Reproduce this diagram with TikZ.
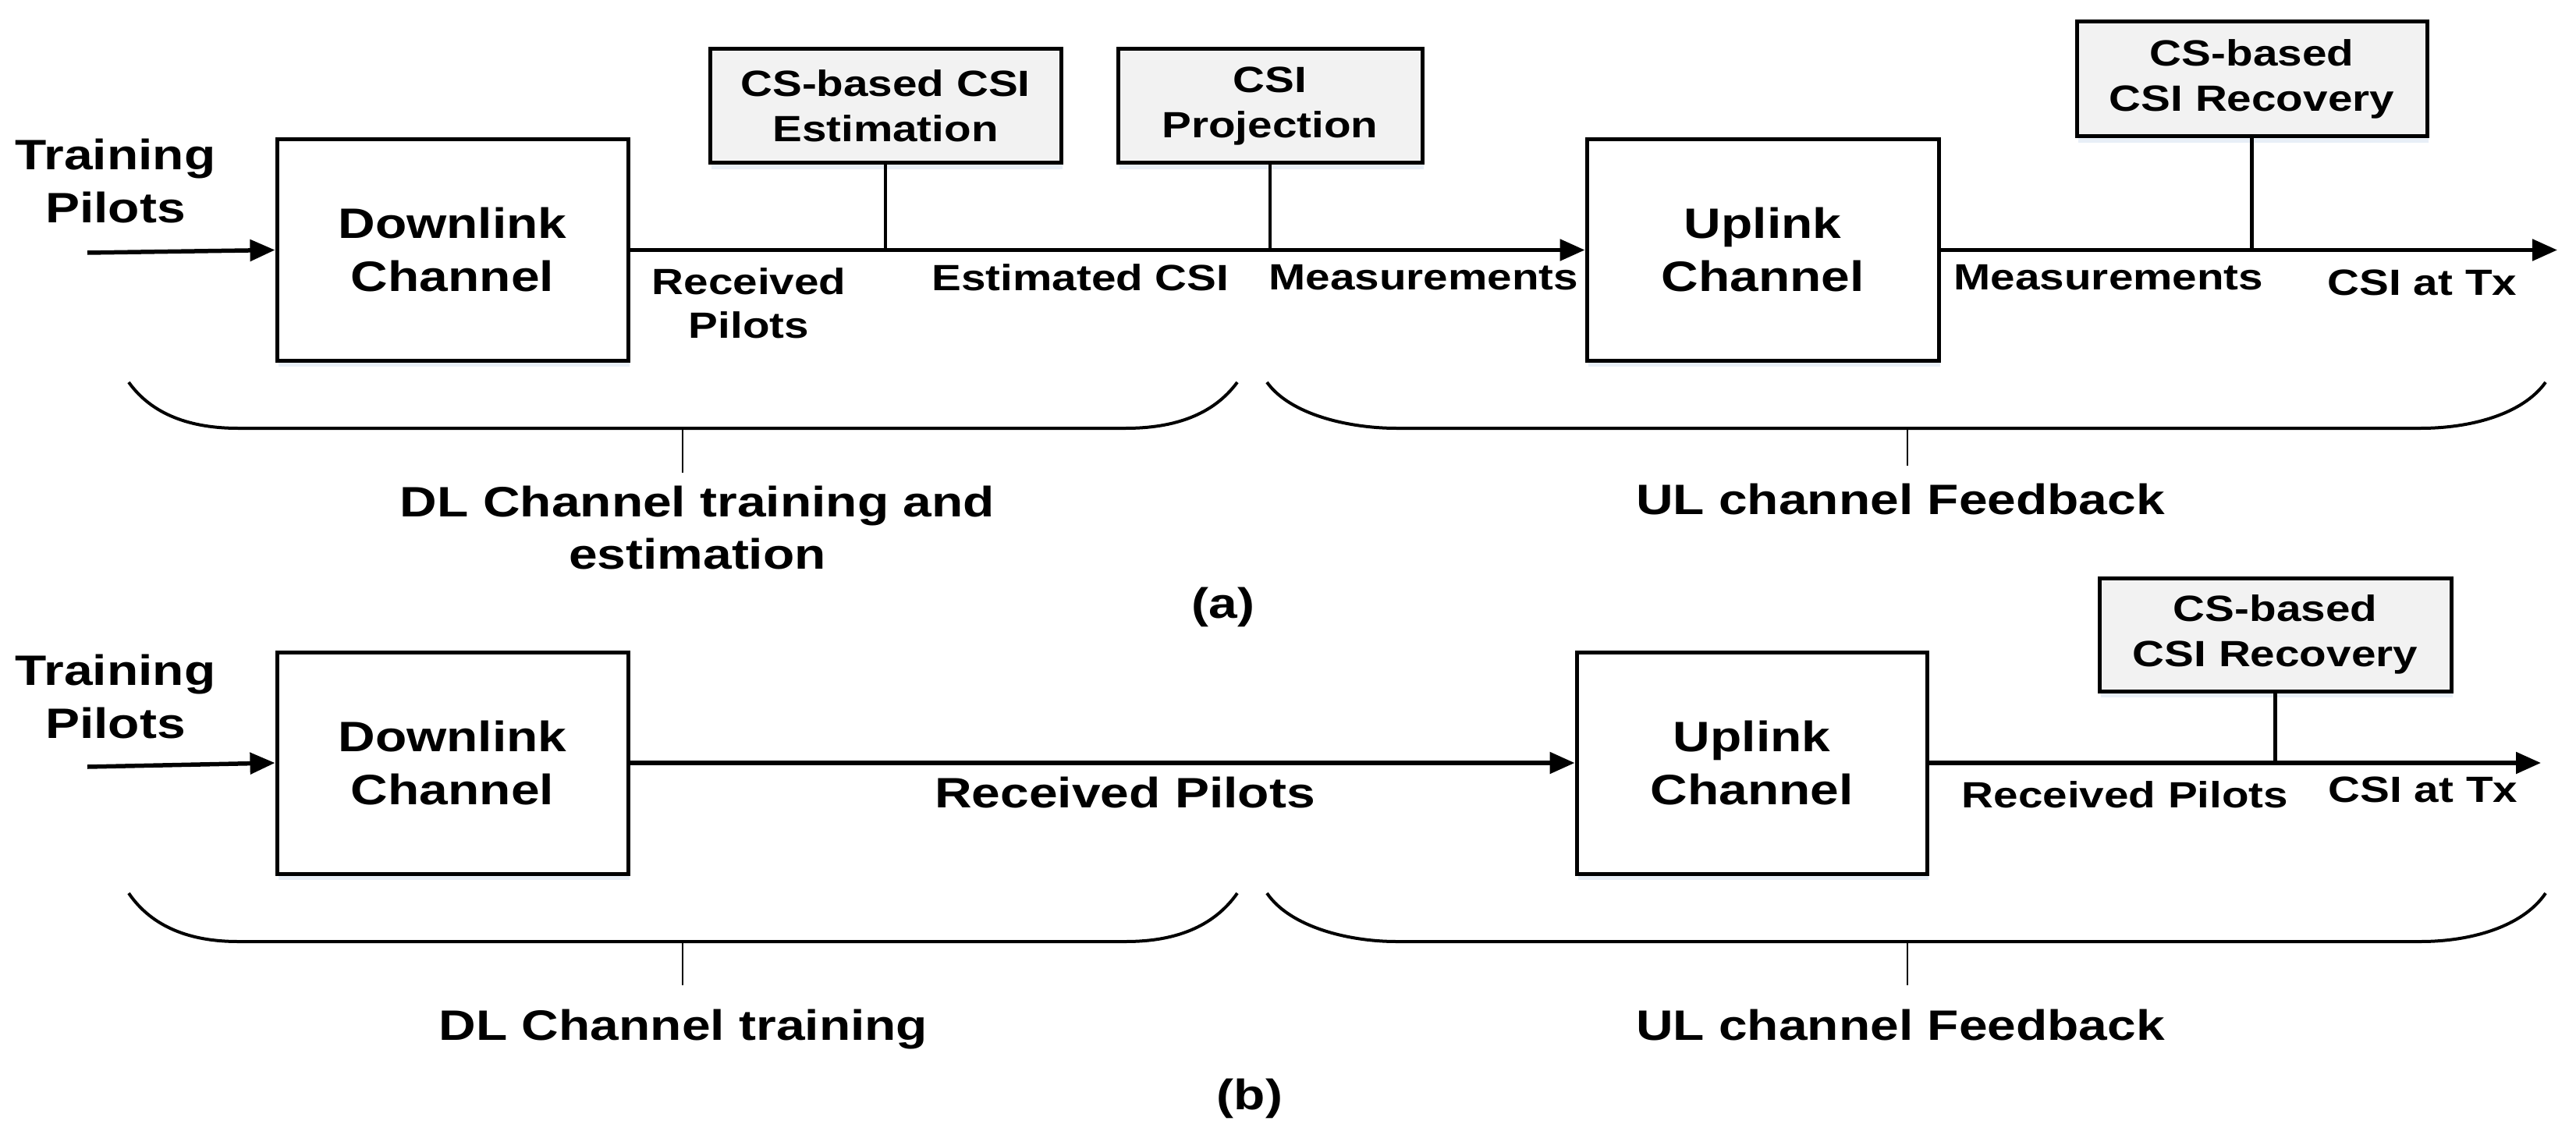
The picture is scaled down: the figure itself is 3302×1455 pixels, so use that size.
\documentclass[tikz,border=0pt]{standalone}
\usepackage{fontspec}
\newfontfamily\figfont{Liberation Sans}[FakeStretch=1.21]
\usetikzlibrary{arrows.meta,shadows}
\definecolor{boxgray}{RGB}{242,242,242}
\definecolor{shadowblue}{RGB}{205,220,238}
\tikzset{
  big/.style={font=\figfont\bfseries\fontsize{54.5}{68}\selectfont},
  small/.style={font=\figfont\bfseries\fontsize{46.8}{57}\selectfont},
  shadowed/.style={drop shadow={shadow xshift=2pt, shadow yshift=-8pt, fill=shadowblue, opacity=0.45}},
  chan/.style={draw, line width=5pt, fill=white, minimum width=450pt, minimum height=283pt,
    inner sep=0pt, align=center, big, shadowed},
  proc/.style={draw, line width=5pt, fill=boxgray, minimum height=146pt,
    inner sep=0pt, align=center, small, shadowed},
  lbl/.style={inner sep=0pt, anchor=base, align=center},
  sig/.style={line width=5.5pt, -{Triangle[length=32pt,width=27pt]}},
  wire/.style={line width=5.5pt},
  tap/.style={line width=4.5pt},
  brace/.style={line width=4pt},
  tick/.style={line width=2.5pt},
}
\begin{document}
\begin{tikzpicture}[x=1pt,y=-1pt]
\fill[white] (0,0) rectangle (3302,1455);
\useasboundingbox (0,0) rectangle (3302,1455);

% ---------------- (a) ----------------
\node[chan] (dl1) at (580,320.5) {Downlink\\Channel};
\node[chan, minimum width=451pt] (ul1) at (2259.5,320.5) {Uplink\\Channel};
\node[proc, minimum width=450pt] (est) at (1135,136) {CS-based CSI\\[1pt]Estimation};
\node[proc, minimum width=390pt] (proj) at (1628,136) {CSI\\[1pt]Projection};
\node[proc, minimum width=449pt, minimum height=147pt] (rec1) at (2886.5,101.5) {CS-based\\[1pt]CSI Recovery};

\coordinate (inA) at (112,324);
\coordinate (outA) at (3278,320.5);
\draw[sig] (inA) -- (dl1.west);
\draw[sig] (dl1.east) -- (ul1.west);
\draw[sig] (ul1.east) -- (outA);
\draw[tap] (est.south) -- (est.south |- dl1.east);
\draw[tap] (proj.south) -- (proj.south |- dl1.east);
\draw[tap] (rec1.south) -- (rec1.south |- ul1.east);

% base anchor of a two-line label = baseline of its last line
\node[lbl, big] (tp1) at (148,286) {Training\\Pilots};
\node[lbl, small, font=\figfont\bfseries\fontsize{46.8}{56}\selectfont] (rp1) at (960,433) {Received\\Pilots};
\node[lbl, small] (ec1) at (1385,372) {Estimated CSI};
\node[lbl, small] (ms1) at (1825,371) {Measurements};
\node[lbl, small] (ms2) at (2703,371) {Measurements};
\node[lbl, small] (tx1) at (3105,378) {CSI at Tx};

\draw[brace] (165,490) .. controls (195,532) and (245,549) .. (305,549) -- (1443,549)
  .. controls (1505,549) and (1555,532) .. (1586,490);
\draw[tick] (875,549) -- (875,606);
\draw[brace] (1624,490) .. controls (1654,532) and (1730,549) .. (1790,549) -- (3103,549)
  .. controls (3165,549) and (3233,532) .. (3263,490);
\draw[tick] (2445,549) -- (2445,597);

\node[lbl, big, font=\figfont\bfseries\fontsize{54.5}{67}\selectfont] (dlt1) at (894,729) {DL Channel training and\\estimation};
\node[lbl, big] (ulf1) at (2436,659) {UL channel Feedback};
\node[lbl, big] (capa) at (1568,792) {(a)};

% ---------------- (b) ----------------
\node[chan, minimum height=284pt] (dl2) at (580,978) {Downlink\\Channel};
\node[chan, minimum width=449pt, minimum height=284pt] (ul2) at (2245.5,978) {Uplink\\Channel};
\node[proc, minimum width=451pt, minimum height=145pt] (rec2) at (2916.5,813.5) {CS-based\\[1pt]CSI Recovery};

\coordinate (inB) at (112,983);
\coordinate (outB) at (3257,978);
\draw[sig] (inB) -- (dl2.west);
\draw[sig] (dl2.east) -- (ul2.west);
\draw[sig] (ul2.east) -- (outB);
\draw[tap] (rec2.south) -- (rec2.south |- ul2.east);

\node[lbl, big] (tp2) at (148,946) {Training\\Pilots};
\node[lbl, big] (rp2) at (1442,1035) {Received Pilots};
\node[lbl, small] (rp3) at (2724,1035) {Received Pilots};
\node[lbl, small] (tx2) at (3106,1028) {CSI at Tx};

\draw[brace] (165,1145) .. controls (195,1189) and (245,1207) .. (305,1207) -- (1443,1207)
  .. controls (1505,1207) and (1555,1189) .. (1586,1145);
\draw[tick] (875,1207) -- (875,1263);
\draw[brace] (1624,1145) .. controls (1654,1189) and (1730,1207) .. (1790,1207) -- (3103,1207)
  .. controls (3165,1207) and (3233,1189) .. (3263,1145);
\draw[tick] (2445,1207) -- (2445,1263);

\node[lbl, big] (dlt2) at (876,1333) {DL Channel training};
\node[lbl, big] (ulf2) at (2436,1333) {UL channel Feedback};
\node[lbl, big] (capb) at (1602,1422) {(b)};
\end{tikzpicture}
\end{document}
